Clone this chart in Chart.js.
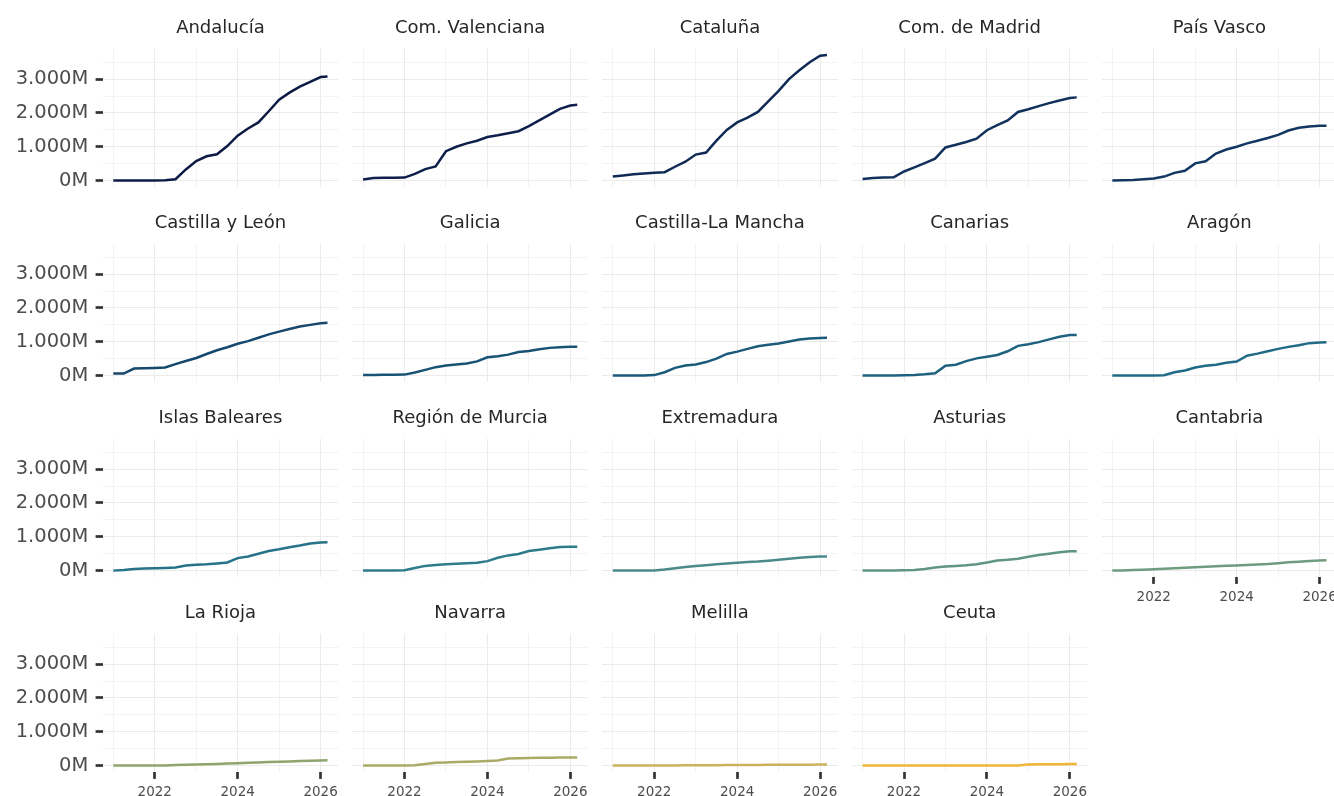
<!DOCTYPE html>
<html>
<head>
<meta charset="utf-8">
<script src="https://cdn.jsdelivr.net/npm/chart.js@4.4.1/dist/chart.umd.min.js"></script>
<style>
  html, body { margin: 0; padding: 0; background: #ffffff; width: 1334px; height: 796px; overflow: hidden; position: relative; }
  canvas { position: absolute; }
</style>
</head>
<body>
<script>
// ---------- DATA (cumulative amounts, millions) ----------
const dates = ['2021-01','2021-04','2021-07','2021-10','2022-01','2022-04','2022-07','2022-10',
               '2023-01','2023-04','2023-07','2023-10','2024-01','2024-04','2024-07','2024-10',
               '2025-01','2025-04','2025-07','2025-10','2026-01','2026-03'];

const regions = ['Andalucía','Com. Valenciana','Cataluña','Com. de Madrid','País Vasco',
                 'Castilla y León','Galicia','Castilla-La Mancha','Canarias','Aragón',
                 'Islas Baleares','Región de Murcia','Extremadura','Asturias','Cantabria',
                 'La Rioja','Navarra','Melilla','Ceuta'];

const andalucia      = [0,0,0,2,5,12,40,330,580,720,780,1020,1330,1540,1720,2050,2390,2600,2780,2920,3060,3080];
const valenciana     = [30,80,85,88,90,200,340,420,870,1000,1100,1180,1290,1340,1400,1460,1610,1780,1950,2120,2220,2240];
const cataluna       = [120,150,185,210,230,250,410,560,770,830,1180,1500,1720,1860,2030,2340,2650,3000,3260,3500,3690,3710];
const madrid         = [50,80,90,100,270,390,520,650,980,1060,1140,1240,1490,1640,1780,2030,2110,2200,2290,2370,2440,2460];
const paisVasco      = [0,10,20,40,60,120,230,290,510,570,800,920,1000,1100,1180,1260,1350,1480,1560,1600,1625,1625];
const castillaLeon   = [60,60,210,215,225,240,340,430,520,640,750,840,940,1020,1120,1220,1300,1380,1450,1500,1545,1560];
const galicia        = [20,22,25,28,30,90,170,250,300,330,360,420,540,570,620,700,730,780,820,840,850,855];
const castillaMancha = [0,0,2,5,15,100,230,300,330,400,500,640,710,790,870,910,950,1010,1070,1100,1115,1120];
const canarias       = [0,0,2,5,10,20,40,70,290,320,430,510,560,610,720,880,930,990,1070,1150,1200,1200];
const aragon         = [0,0,0,0,2,10,100,150,240,290,320,380,415,590,650,720,790,850,900,960,980,985];
const baleares       = [0,20,50,60,70,80,90,150,175,185,210,240,370,420,500,580,630,690,740,800,830,840];
const murcia         = [0,0,2,5,10,80,140,165,185,200,215,235,280,380,450,490,580,620,660,700,705,705];
const extremadura    = [0,0,0,2,5,30,70,110,135,160,190,210,230,255,270,295,320,350,380,400,415,420];
const asturias       = [0,0,0,5,10,20,50,90,120,140,160,190,240,300,320,350,410,460,500,540,570,575];
const cantabria      = [0,5,15,25,40,55,70,85,100,115,130,145,155,165,180,195,220,245,265,285,300,305];
const laRioja        = [0,0,0,0,2,5,15,25,35,40,50,60,70,85,95,105,115,125,135,145,155,160];
const navarra        = [0,0,0,0,2,10,50,85,95,105,115,125,135,150,210,220,225,230,235,238,240,240];
const melilla        = [0,0,0,0,2,4,6,8,10,12,14,16,18,20,22,24,25,26,27,28,30,30];
const ceuta          = [0,0,0,0,0,0,0,0,0,0,0,0,0,0,0,2,35,40,42,44,46,48];

const seriesValues = [andalucia, valenciana, cataluna, madrid, paisVasco,
                      castillaLeon, galicia, castillaMancha, canarias, aragon,
                      baleares, murcia, extremadura, asturias, cantabria,
                      laRioja, navarra, melilla, ceuta];

const yTickValues = [0, 500, 1000, 1500, 2000, 2500, 3000, 3500];
const xTickYears  = [2021, 2022, 2023, 2024, 2025, 2026];

// ---------- STYLE ----------
const palette = ['#0c1a44','#0d1f4a','#0f2a55','#11305b','#123762',
                 '#16476d','#185274','#1b5a7a','#1e627f','#1f6a86',
                 '#267288','#2e7b8b','#4b8a89','#5f9486','#6f9b7e',
                 '#8fa56d','#aaaa67','#cdb25c','#f0b437'];

const FONT = "'DejaVu Sans', sans-serif";
const NCOL = 5;
const colLeft0 = 102.6, colStep = 249.75, panelW = 235.6;
const rowStep = 195, titleH = 48.8, panelH = 138.1, xAxisH = 36;

function toYear(d) { const [y, m] = d.split('-').map(Number); return y + (m - 1) / 12; }
function fmtM(v) { return v === 0 ? '0M' : (v / 1000) + '.000M'; }

const xs = dates.map(toYear);
const xMinD = Math.min(...xs), xMaxD = Math.max(...xs);
const xSpan = xMaxD - xMinD;
const xMin = xMinD - 0.05 * xSpan, xMax = xMaxD + 0.05 * xSpan;
const yMaxD = Math.max(...seriesValues.flat());
const yMin = -0.05 * yMaxD, yMax = yMaxD * 1.05;

const n = regions.length;
regions.forEach((name, i) => {
  const r = Math.floor(i / NCOL), c = i % NCOL;
  const showY = c === 0;
  const showX = i + NCOL >= n;
  const panelLeft = colLeft0 + c * colStep;
  const canvasLeft = showY ? 0 : Math.floor(panelLeft);
  const yW = panelLeft - canvasLeft;
  const canvasW = Math.ceil(yW + panelW);
  const padRight = canvasW - yW - panelW;
  const xH = showX ? xAxisH : 0;
  const canvasTop = r * rowStep;
  const canvasH = Math.ceil(titleH + panelH + xH);
  const padBottom = canvasH - titleH - panelH - xH;

  const cv = document.createElement('canvas');
  cv.width = canvasW; cv.height = canvasH;
  cv.style.left = canvasLeft + 'px'; cv.style.top = canvasTop + 'px';
  cv.style.width = canvasW + 'px'; cv.style.height = canvasH + 'px';
  document.body.appendChild(cv);

  const vals = seriesValues[i];
  new Chart(cv.getContext('2d'), {
    type: 'line',
    data: {
      datasets: [{
        data: xs.map((x, k) => ({ x: x, y: vals[k] })),
        borderColor: palette[i],
        borderWidth: 2.5,
        pointRadius: 0,
        tension: 0,
        fill: false
      }]
    },
    options: {
      responsive: false,
      animation: false,
      devicePixelRatio: 1,
      layout: { autoPadding: false, padding: { left: 0, top: 0, right: padRight, bottom: padBottom } },
      plugins: {
        legend: { display: false },
        tooltip: { enabled: false },
        title: {
          display: true, text: name, fullSize: false, align: 'center',
          color: '#262626',
          font: { family: FONT, size: 18, weight: 'normal', lineHeight: 1.2 },
          padding: { top: 17.6, bottom: 9.6 }
        }
      },
      scales: {
        x: {
          type: 'linear', min: xMin, max: xMax,
          afterBuildTicks: s => { s.ticks = xTickYears.map(v => ({ value: v })); },
          afterFit: s => { s.height = xH; s.paddingLeft = s.paddingRight = s.paddingTop = s.paddingBottom = 0; },
          border: { display: false },
          grid: {
            color: ctx => (ctx.tick && ctx.tick.value % 2 === 0) ? '#ebebeb' : '#f3f3f3',
            lineWidth: 1,
            drawTicks: showX, tickLength: 7, tickWidth: 2.7,
            tickColor: ctx => (ctx.tick && ctx.tick.value % 2 === 0) ? '#333333' : 'rgba(0,0,0,0)'
          },
          ticks: {
            display: showX, autoSkip: false, maxRotation: 0, minRotation: 0,
            padding: 5, color: '#4d4d4d',
            font: { family: FONT, size: 13.5 },
            callback: v => (v % 2 === 0 ? String(v) : '')
          }
        },
        y: {
          type: 'linear', min: yMin, max: yMax,
          afterBuildTicks: s => { s.ticks = yTickValues.map(v => ({ value: v })); },
          afterFit: s => { s.width = yW; s.paddingLeft = s.paddingRight = s.paddingTop = s.paddingBottom = 0; },
          border: { display: false },
          grid: {
            color: ctx => (ctx.tick && ctx.tick.value % 1000 === 0) ? '#ebebeb' : '#f3f3f3',
            lineWidth: 1,
            drawTicks: showY, tickLength: 7, tickWidth: 2.7,
            tickColor: ctx => (ctx.tick && ctx.tick.value % 1000 === 0) ? '#333333' : 'rgba(0,0,0,0)'
          },
          ticks: {
            display: showY, autoSkip: false, padding: 7.3, color: '#4d4d4d',
            font: { family: FONT, size: 19.5 },
            callback: v => (v % 1000 === 0 ? fmtM(v) : '')
          }
        }
      }
    }
  });
});
</script>
</body>
</html>
